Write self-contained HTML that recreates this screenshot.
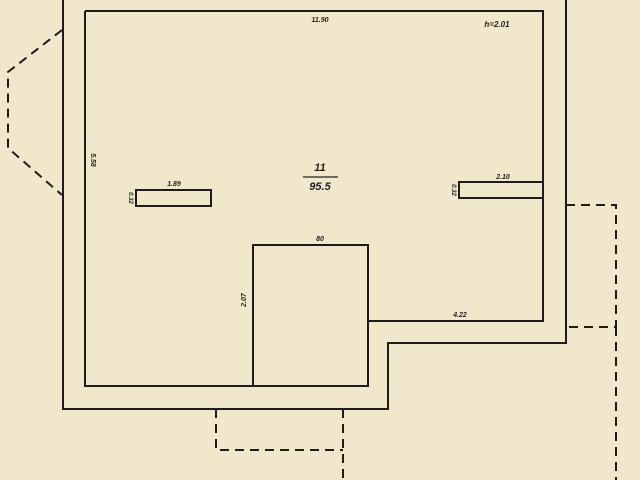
<!DOCTYPE html>
<html><head><style>
html,body{margin:0;padding:0;background:#f1e8cc;}
svg{display:block}
text{font-family:"Liberation Sans",sans-serif;font-style:italic;font-weight:bold;fill:#222}
</style></head><body>
<svg width="640" height="480" viewBox="0 0 640 480">
<rect width="640" height="480" fill="#f1e8cc"/>
<g fill="none" stroke="#1c1c1c" stroke-width="2">
<polyline points="63,0 63,409 388,409 388,343 566,343 566,0"/>
<polyline points="85,11 543,11 543,321 368,321"/>
<polyline points="85,11 85,386 368,386 368,245 253,245 253,386"/>
<rect x="136" y="190" width="75" height="16"/>
<polyline points="543,182 459,182 459,198 543,198"/>
</g>
<g fill="none" stroke="#1c1c1c" stroke-width="2" stroke-dasharray="9,6">
<polyline points="62,30 8,72 8,148 62,195"/>
<polyline points="566,205 616,205 616,327 566,327"/>
<line x1="616" y1="327" x2="616" y2="480"/>
<polyline points="216,409 216,450 343,450"/>
<line x1="343" y1="409" x2="343" y2="480"/>
</g>
<line x1="303" y1="177" x2="338" y2="177" stroke="#222" stroke-width="1.2"/>
<text x="320" y="171" font-size="11" text-anchor="middle">11</text>
<text x="320" y="190" font-size="11" text-anchor="middle">95.5</text>
<text x="320" y="22" font-size="7" text-anchor="middle">11.90</text>
<text x="497" y="27" font-size="8" text-anchor="middle">h=2.01</text>
<text x="174" y="186" font-size="7" text-anchor="middle">1.89</text>
<text x="320" y="241" font-size="7" text-anchor="middle">80</text>
<text x="460" y="317" font-size="7" text-anchor="middle">4.22</text>
<text x="503" y="179" font-size="7" text-anchor="middle">2.10</text>
<text transform="translate(91,160) rotate(90)" font-size="7" text-anchor="middle">5.58</text>
<text transform="translate(129,198) rotate(90)" font-size="6" text-anchor="middle">0.32</text>
<text transform="translate(452,190) rotate(90)" font-size="6" text-anchor="middle">0.32</text>
<text transform="translate(246,300) rotate(-90)" font-size="7" text-anchor="middle">2.07</text>
</svg>
</body></html>
